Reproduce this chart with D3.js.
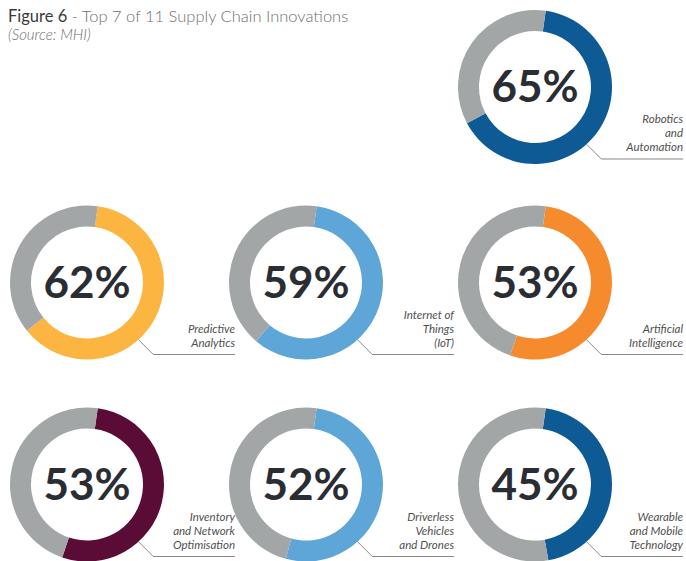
<!DOCTYPE html>
<html>
<head>
<meta charset="utf-8">
<script src="https://cdn.jsdelivr.net/npm/d3@7"></script>
<style>
  body { margin: 0; background: #fff; }
  svg { display: block; }
</style>
</head>
<body>
<svg id="chart" width="686" height="561"></svg>
<script>
//Chart data
var categories = ["Robotics and Automation", "Predictive Analytics", "Internet of Things (IoT)",
  "Artificial Intelligence", "Inventory and Network Optimisation", "Driverless Vehicles and Drones",
  "Wearable and Mobile Technology"];
var labelLines = [
  ["Robotics", "and", "Automation"],
  ["Predictive", "Analytics"],
  ["Internet of", "Things", "(IoT)"],
  ["Artificial", "Intelligence"],
  ["Inventory", "and Network", "Optimisation"],
  ["Driverless", "Vehicles", "and Drones"],
  ["Wearable", "and Mobile", "Technology"]
];
var values = [65, 62, 59, 53, 53, 52, 45];
var colours = ["#0e5a94", "#fbb540", "#5ea6d8", "#f68b2e", "#5a0c37", "#5ea6d8", "#0e5a94"];
var restColour = "#a3a6a7";

var svg = d3.select("#chart");

//Grid slots: first donut sits top right, the rest fill rows 2 and 3
var colX = [87, 306, 535],
    rowY = [87, 282.5, 484.5],
    outerR = 77,
    innerR = 56;

function slot(i) {
  if (i === 0) return {col: 2, row: 0};
  return {col: (i - 1) % 3, row: 1 + Math.floor((i - 1) / 3)};
}

//Title
var title = svg.append("text")
    .attr("x", 8)
    .attr("y", 22)
    .style("font-family", "Lato, sans-serif")
    .style("font-size", "16.5px");
title.append("tspan").attr("fill", "#3a3a3a").style("font-weight", 400).text("Figure 6");
title.append("tspan").attr("fill", "#6f6f6f").style("font-weight", 300).text(" - Top 7 of 11 Supply Chain Innovations");
svg.append("text")
    .attr("x", 8)
    .attr("y", 40)
    .attr("fill", "#6f6f6f")
    .style("font-family", "Lato, sans-serif")
    .style("font-size", "15px")
    .style("font-style", "italic")
    .style("font-weight", 300)
    .text("(Source: MHI)");

//Donuts
var pie = d3.pie()
    .sort(null)
    .startAngle(8 * Math.PI / 180)
    .endAngle(8 * Math.PI / 180 + 2 * Math.PI);
var arc = d3.arc().innerRadius(innerR).outerRadius(outerR);

values.forEach(function(v, i) {
  var s = slot(i),
      cx = colX[s.col],
      cy = rowY[s.row];
  var g = svg.append("g").attr("transform", "translate(" + cx + "," + cy + ")");

  g.selectAll("path")
    .data(pie([v, 100 - v]))
    .enter()
    .append("path")
    .attr("d", arc)
    .attr("fill", function(d, j) { return j === 0 ? colours[i] : restColour; });

  g.append("text")
    .attr("x", 0)
    .attr("y", 15)
    .attr("text-anchor", "middle")
    .attr("fill", "#2b2d35")
    .style("font-family", "Lato, sans-serif")
    .style("font-weight", 700)
    .style("font-size", "44px")
    .text(v + "%");

  //Leader line
  var a = 138 * Math.PI / 180,
      x0 = outerR * Math.sin(a),
      y0 = -outerR * Math.cos(a),
      leadY = 72,
      rightX = 148;
  g.append("path")
    .attr("d", "M" + x0 + "," + y0 + "L" + (x0 + (leadY - y0)) + "," + leadY + "H" + rightX)
    .attr("fill", "none")
    .attr("stroke", "#6b6b6b")
    .attr("stroke-width", 0.8);

  //Label
  var lines = labelLines[i];
  g.append("text")
    .attr("text-anchor", "end")
    .attr("fill", "#505050")
    .style("font-family", "Lato, sans-serif")
    .style("font-style", "italic")
    .style("font-weight", 400)
    .style("font-size", "11.5px")
    .selectAll("tspan")
    .data(lines)
    .enter()
    .append("tspan")
    .attr("x", rightX)
    .attr("y", function(d, k) { return leadY - 8 - (lines.length - 1 - k) * 14; })
    .text(function(d) { return d; });
});
</script>
</body>
</html>
